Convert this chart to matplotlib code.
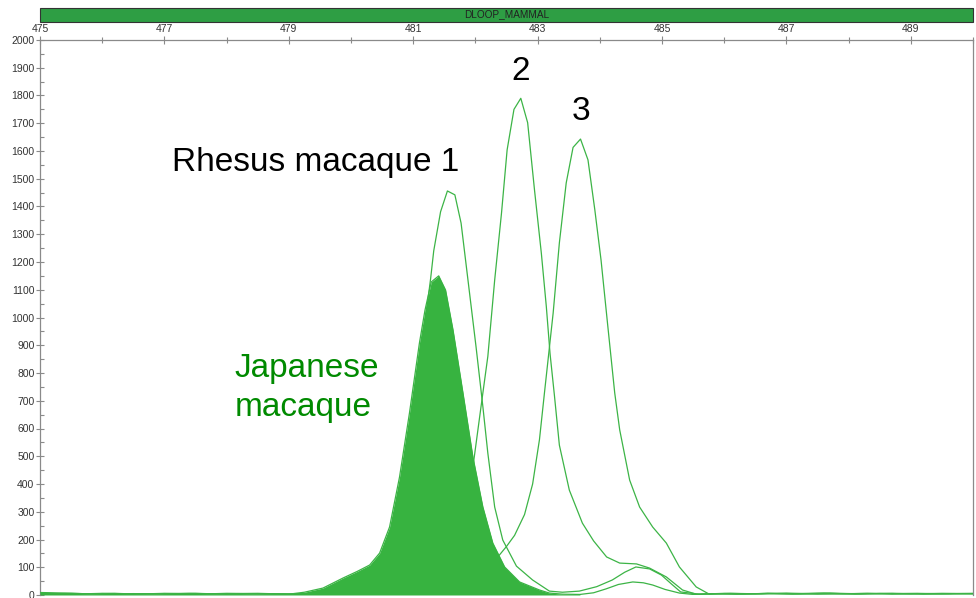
import matplotlib
matplotlib.use("Agg")
import matplotlib.pyplot as plt
from matplotlib.patches import Rectangle
from matplotlib.ticker import MultipleLocator

plt.rcParams['font.family'] = ['Liberation Sans', 'DejaVu Sans']

# Japanese macaque (filled trace)
jap_x = [475.0, 475.4, 475.8, 476.2, 476.6, 477.0, 477.4, 477.8, 478.2, 478.6,
         479.0, 479.25, 479.55, 479.87, 480.1, 480.3, 480.46, 480.62, 480.78, 480.94,
         481.1, 481.19, 481.29, 481.41, 481.52, 481.64, 481.8, 481.96, 482.12, 482.28,
         482.47, 482.71, 483.03, 483.19, 483.4, 483.68, 483.9, 484.1, 484.3, 484.53,
         484.7, 484.85, 485.05, 485.28, 485.5, 485.9, 486.3, 486.7, 487.1, 487.5,
         487.9, 488.3, 488.7, 489.1, 489.5, 490.0]
jap_y = [9, 7, 4, 6, 3, 5, 6, 4, 5, 3,
         3, 10, 25, 61, 85, 108, 151, 245, 425, 656,
         908, 1027, 1128, 1150, 1099, 955, 728, 497, 317, 187,
         101, 47, 18, 7, 3, 2, 8, 22, 38, 47,
         44, 36, 20, 7, 2, 4, 3, 6, 3, 5,
         4, 6, 3, 5, 4, 6]
fill_end = 483.68

# Rhesus macaque 1
r1_x = [475.0, 475.5, 476.0, 476.5, 477.0, 477.5, 478.0, 478.5, 479.0, 479.5,
        479.9, 480.3, 480.6, 480.9, 481.1, 481.2, 481.28, 481.33, 481.44, 481.55,
        481.67, 481.77, 481.9, 482.01, 482.12, 482.2, 482.31, 482.44, 482.66, 482.92,
        483.19, 483.4, 483.67, 483.95, 484.2, 484.4, 484.58, 484.8, 484.99, 485.15,
        485.3, 485.6, 486.0, 486.5, 487.0, 487.5, 488.0, 488.5, 489.0, 489.5, 490.0]
r1_y = [5, 3, 6, 4, 5, 3, 6, 4, 3, 6,
        20, 50, 130, 400, 750, 1000, 1140, 1240, 1381, 1456,
        1442, 1340, 1099, 895, 679, 511, 317, 198, 104, 54,
        14, 10, 14, 30, 54, 82, 101, 94, 72, 40,
        11, 3, 6, 4, 7, 3, 5, 6, 4, 6, 5]

# Rhesus macaque 2
r2_x = [475.0, 475.5, 476.0, 476.5, 477.0, 477.5, 478.0, 478.5, 479.0, 479.5,
        480.0, 480.5, 481.0, 481.5, 481.8, 481.96, 482.12, 482.2, 482.31, 482.42,
        482.51, 482.62, 482.73, 482.84, 482.95, 483.06, 483.14, 483.2, 483.27, 483.35,
        483.51, 483.72, 483.9, 484.11, 484.32, 484.59, 484.8, 485.07, 485.33, 485.55,
        485.8, 486.2, 486.7, 487.2, 487.7, 488.2, 488.7, 489.2, 489.7, 490.0]
r2_y = [4, 6, 3, 5, 4, 6, 3, 5, 4, 5,
        6, 10, 30, 120, 300, 461, 728, 860, 1135, 1377,
        1604, 1750, 1790, 1702, 1460, 1232, 1040, 870, 720, 540,
        378, 259, 195, 137, 115, 112, 97, 65, 18, 3,
        5, 3, 6, 4, 7, 4, 6, 3, 5, 4]

# Rhesus macaque 3
r3_x = [475.0, 475.5, 476.0, 476.5, 477.0, 477.5, 478.0, 478.5, 479.0, 479.5,
        480.0, 480.5, 481.0, 481.5, 481.9, 482.1, 482.23, 482.36, 482.5, 482.63,
        482.79, 482.92, 483.03, 483.11, 483.25, 483.35, 483.46, 483.57, 483.69, 483.81,
        483.92, 484.02, 484.13, 484.24, 484.32, 484.48, 484.64, 484.85, 485.07, 485.28,
        485.55, 485.76, 486.1, 486.6, 487.1, 487.6, 488.1, 488.6, 489.1, 489.6, 490.0]
r3_y = [6, 4, 5, 3, 6, 4, 5, 6, 3, 5,
        4, 6, 10, 20, 45, 80, 115, 137, 175, 215,
        290, 400, 560, 728, 1016, 1269, 1485, 1613, 1643, 1568,
        1388, 1207, 966, 728, 595, 414, 317, 245, 187, 101,
        29, 3, 6, 4, 5, 7, 3, 5, 6, 4, 5]

x_ticks = [475, 477, 479, 481, 483, 485, 487, 489]
bar_label = "DLOOP_MAMMAL"

line_col = "#3cb446"
fill_col = "#37b340"
grey = "#8a8a8a"

fig = plt.figure(figsize=(9.76, 5.98), dpi=100)
ax = fig.add_axes([40 / 976, 3 / 598, 933 / 976, 555 / 598])

for xs, ys in [(r1_x, r1_y), (r2_x, r2_y), (r3_x, r3_y)]:
    ax.plot(xs, ys, color=line_col, lw=0.9, zorder=2)

ax.plot(jap_x, jap_y, color=line_col, lw=0.9, zorder=3)
n_fill = len([v for v in jap_x if v <= fill_end])
ax.fill_between(jap_x[:n_fill], jap_y[:n_fill], 0, color=fill_col, lw=0, zorder=4)

ax.set_xlim(475, 490)
ax.set_ylim(0, 2000)

ax.xaxis.tick_top()
ax.set_xticks(x_ticks)
ax.xaxis.set_minor_locator(MultipleLocator(1))
ax.yaxis.set_major_locator(MultipleLocator(100))
ax.yaxis.set_minor_locator(MultipleLocator(50))
ax.tick_params(axis='both', which='major', direction='inout', length=6, width=0.8,
               color=grey, labelsize=7.5, labelcolor='#333333', pad=1)
ax.tick_params(axis='both', which='minor', direction='inout', length=5, width=0.8, color=grey)
ax.tick_params(axis='y', which='minor', direction='in', length=3)

for s in ['top', 'left', 'right']:
    ax.spines[s].set_color(grey)
    ax.spines[s].set_linewidth(0.9)
ax.spines['bottom'].set_visible(False)

# header bar
fig.add_artist(Rectangle((40 / 976, 1 - 21.5 / 598), 933 / 976, 14 / 598,
                         transform=fig.transFigure, facecolor="#2e9e44",
                         edgecolor="#333333", lw=0.8))
fig.text(507 / 976, 1 - 14.5 / 598, bar_label, ha='center', va='center',
         fontsize=7.2, color='#222222')

# annotations
fs = 24
ax.text(477.12, 1528, "Rhesus macaque 1", fontsize=fs, color='black',
        ha='left', va='baseline')
ax.text(482.73, 1856, "2", fontsize=fs, color='black', ha='center', va='baseline')
ax.text(483.69, 1712, "3", fontsize=fs, color='black', ha='center', va='baseline')
ax.text(478.13, 786, "Japanese", fontsize=fs, color='#008a00', ha='left', va='baseline')
ax.text(478.13, 645, "macaque", fontsize=fs, color='#008a00', ha='left', va='baseline')

fig.savefig("out.png", dpi=100)
